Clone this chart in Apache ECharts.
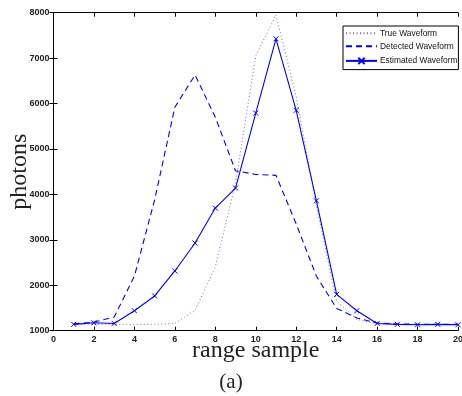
<!DOCTYPE html>
<html><head><meta charset="utf-8">
<script src="https://cdn.jsdelivr.net/npm/echarts@6/dist/echarts.min.js"></script>
<style>html,body{margin:0;padding:0;background:#fff}#c{width:462px;height:396px}</style>
</head><body><div id="c"></div>
<script>
const samples = [1,2,3,4,5,6,7,8,9,10,11,12,13,14,15,16,17,18,19,20];
const trueWave = [1140,1140,1140,1140,1140,1160,1450,2400,4250,7050,7950,6150,3750,1650,1250,1150,1140,1140,1140,1140];
const detectedWave = [1150,1190,1300,2200,3880,5920,6630,5700,4520,4440,4420,3350,2200,1490,1280,1170,1150,1140,1140,1140];
const estimatedWave = [1140,1175,1160,1440,1765,2315,2930,3700,4140,5790,7425,5850,3860,1800,1440,1160,1140,1130,1140,1130];
const xTicks = [0,2,4,6,8,10,12,14,16,18,20];
const yTicks = [1000,2000,3000,4000,5000,6000,7000,8000];
const seriesNames = ['True Waveform','Detected Waveform','Estimated Waveform'];

const pair = arr => samples.map((x,i)=>[x,arr[i]]);
const blue = '#0000ff';
const tickLab = {fontFamily:'Liberation Sans, Arial', fontSize:9, color:'#222', fontWeight:'bold', formatter: v => String(v)};
const chart = echarts.init(document.getElementById('c'));
chart.setOption({
  animation:false,
  backgroundColor:'#fff',
  grid:{left:53.5,right:4,top:12.7,bottom:65.3,containLabel:false,outerBoundsMode:'none'},
  xAxis:[
    {type:'value',min:0,max:20,interval:2,position:'bottom',
     axisLine:{lineStyle:{color:'#000',width:1}},
     axisTick:{inside:true,length:4,lineStyle:{color:'#000'}},
     axisLabel:Object.assign({margin:4},tickLab),
     splitLine:{show:false},
     name:'range sample',nameLocation:'middle',nameGap:8,nameMoveOverlap:false,
     nameTextStyle:{fontFamily:'Liberation Serif, Times New Roman',fontSize:24,color:'#222',verticalAlign:'top'}},
    {type:'value',min:0,max:20,interval:2,position:'top',
     axisLine:{lineStyle:{color:'#000',width:1}},
     axisTick:{inside:true,length:4,lineStyle:{color:'#000'}},
     axisLabel:{show:false},splitLine:{show:false}}
  ],
  yAxis:[
    {type:'value',min:1000,max:8000,interval:1000,position:'left',
     axisLine:{show:true,lineStyle:{color:'#000',width:1}},
     axisTick:{show:true,inside:true,length:4,lineStyle:{color:'#000'}},
     axisLabel:Object.assign({margin:4},tickLab),
     splitLine:{show:false},
     name:'photons',nameLocation:'middle',nameGap:22,nameMoveOverlap:false,
     nameTextStyle:{fontFamily:'Liberation Serif, Times New Roman',fontSize:24,color:'#222',verticalAlign:'bottom'}},
    {type:'value',min:1000,max:8000,interval:1000,position:'right',
     axisLine:{show:true,lineStyle:{color:'#000',width:1}},
     axisTick:{show:true,inside:true,length:4,lineStyle:{color:'#000'}},
     axisLabel:{show:false},splitLine:{show:false}}
  ],
  legend:{
    left:343, top:26, orient:'vertical', itemGap:4.7, itemWidth:31, itemHeight:8,
    backgroundColor:'#fff', borderColor:'#000', borderWidth:1, borderRadius:0,
    padding:[3,1,3,2],
    textStyle:{fontFamily:'Liberation Sans, Arial',fontSize:8.4,color:'#111',padding:[0,0,0,-2]},
    data:[
      {name:seriesNames[0],itemStyle:{opacity:0}},
      {name:seriesNames[1],itemStyle:{opacity:0}},
      {name:seriesNames[2]}
    ]
  },
  graphic:[{type:'text',left:'center',top:372,style:{text:'(a)',fontFamily:'Liberation Serif, Times New Roman',fontSize:21,fill:'#222'}}],
  series:[
    {name:seriesNames[0],type:'line',data:pair(trueWave),showSymbol:false,
     lineStyle:{color:'#6a6aff',width:1,type:[1,2.5]},itemStyle:{color:'#6a6aff'}},
    {name:seriesNames[1],type:'line',data:pair(detectedWave),showSymbol:false,
     lineStyle:{color:blue,width:1.1,type:[6,4]},itemStyle:{color:blue}},
    {name:seriesNames[2],type:'line',data:pair(estimatedWave),
     symbol:'path://M0,0L10,10M10,0L0,10',symbolSize:5,
     lineStyle:{color:blue,width:1.1},
     itemStyle:{color:'none',borderColor:blue,borderWidth:1}}
  ]
});
</script></body></html>
